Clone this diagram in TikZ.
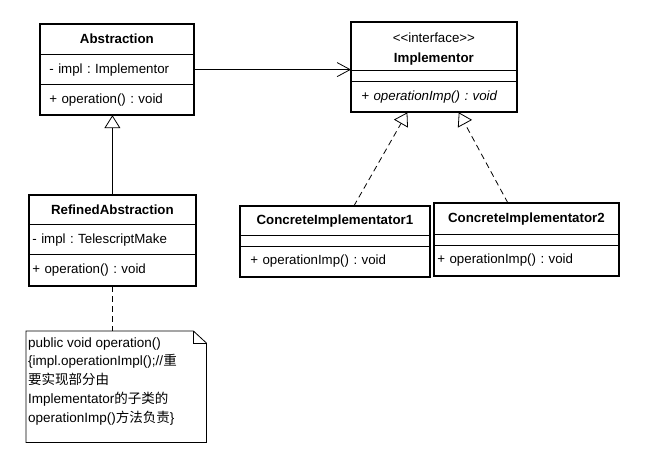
\documentclass[tikz,border=0pt]{standalone}
\usepackage{fontspec}
\setmainfont{Liberation Sans}
\newfontfamily\cjk{Noto Sans CJK SC}
\usetikzlibrary{shapes.multipart,arrows.meta,calc}

% vertical strut: height above / below the baseline
\newcommand\vsp[2]{\rule[-#2pt]{0pt}{\dimexpr #1pt+#2pt\relax}}

\tikzset{
  umlclass/.style={rectangle split, rectangle split parts=3, draw,
    line width=0.8pt, inner ysep=0pt, anchor=north west,
    font=\fontsize{13.3}{15}\selectfont\frenchspacing},
  frame/.style={line width=1.8pt},
  assoc/.style={-{Straight Barb[length=13pt,width=14pt]}, line width=0.8pt},
  inherit/.style={-{Triangle[open,length=13pt,width=16pt]}, line width=0.8pt},
  realize/.style={inherit, dash pattern=on 6pt off 4pt},
}

\begin{document}
\begin{tikzpicture}[x=1pt,y=-1pt]
  \useasboundingbox[fill=white] (0,0) rectangle (647,460);

  \node[umlclass, text width=135pt, inner xsep=9pt] (abs) at (40,24)
    {\centering\vsp{19}{10}\textbf{Abstraction}\par
     \nodepart{two}\vsp{18.5}{10.5}- impl : Implementor
     \nodepart{three}\vsp{19}{11}+ operation() : void};
  \node[umlclass, text width=145pt, inner xsep=10pt] (impl) at (351,22)
    {\centering\vsp{20}{0}<{}<interface>{}>\\\vsp{18.5}{7.5}\textbf{Implementor}\par
     \nodepart{two}\vsp{10}{0}
     \nodepart{three}\vsp{18.5}{11.5}\textit{+ operationImp() : void}};
  \node[umlclass, text width=160pt, inner xsep=3pt] (refab) at (29,195)
    {\centering\vsp{19}{9}\textbf{RefinedAbstraction}\par
     \nodepart{two}\vsp{19}{10}- impl : TelescriptMake
     \nodepart{three}\vsp{19.5}{11.5}+ operation() : void};
  \node[umlclass, text width=169pt, inner xsep=10pt] (ci1) at (240,206)
    {\centering\vsp{18}{10}\textbf{ConcreteImplementator1}\par
     \nodepart{two}\vsp{10}{0}
     \nodepart{three}\vsp{18.5}{11.5}+ operationImp() : void};
  \node[umlclass, text width=178pt, inner xsep=3pt] (ci2) at (434,203)
    {\centering\vsp{19}{11}\textbf{ConcreteImplementator2}\par
     \nodepart{two}\vsp{10}{0}
     \nodepart{three}\vsp{18.5}{11.5}+ operationImp() : void};
  \foreach \n in {abs,impl,refab,ci1,ci2}
    \draw[frame] (\n.north west) rectangle (\n.south east);

  % note
  \node[anchor=north west, inner xsep=2pt, inner ysep=0pt] (note) at (26,331)
    {\begin{minipage}[t][111pt][t]{176pt}\raggedright
     \fontsize{13.5}{18.75}\selectfont\frenchspacing
     \vsp{16}{0}public void operation()\\
     \{impl.operationImpl();//{\cjk 重}\\
     {\cjk 要实现部分由}\\
     Implementator{\cjk 的子类的}\\
     operationImp(){\cjk 方法负责}\}
     \end{minipage}};
  \draw[line width=0.8pt] (note.north west) -- ($(note.north east)+(-13,0)$)
    -- ($(note.north east)+(0,12)$) -- (note.south east)
    -- (note.south west) -- cycle;
  \draw[line width=0.8pt] ($(note.north east)+(-13,0)$) -- ++(0,12) -- ++(13,0);

  % connectors
  \draw[assoc] (abs.east) -- (abs.east -| impl.west);
  \draw[inherit] (refab.north) -- (refab.north |- abs.south);
  \coordinate (c1top) at ($(ci1.north west)!0.6!(ci1.north east)$);
  \coordinate (c2top) at ($(ci2.north west)!0.4!(ci2.north east)$);
  \coordinate (i1) at ($(impl.south west)!0.34!(impl.south east)$);
  \coordinate (i2) at ($(impl.south west)!0.65!(impl.south east)$);
  \draw[realize] (c1top) -- (i1);
  \draw[realize] (c2top) -- (i2);
  \draw[line width=0.8pt, dash pattern=on 6pt off 4pt]
    (refab.south) -- (refab.south |- note.north);
\end{tikzpicture}
\end{document}
